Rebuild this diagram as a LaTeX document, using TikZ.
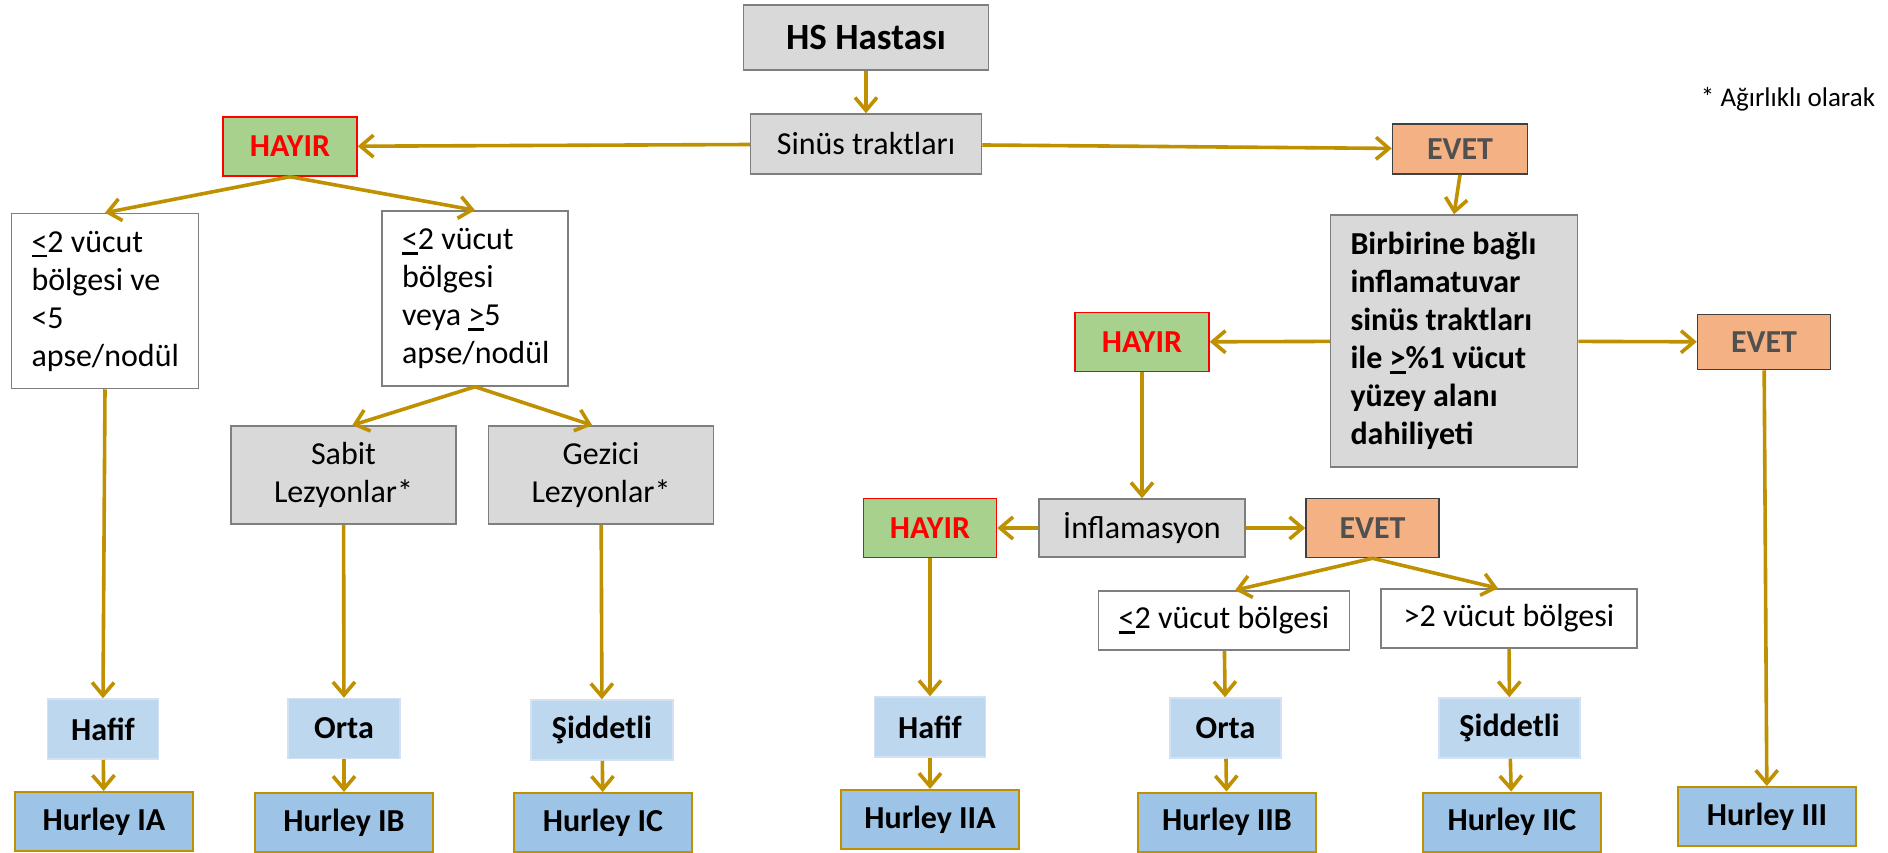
\documentclass[tikz,border=0pt]{standalone}
\usepackage{fontspec}
\setmainfont{Carlito}
\usetikzlibrary{arrows.meta}
\definecolor{gold}{HTML}{BF9000}
\definecolor{greyfill}{HTML}{D9D9D9}
\definecolor{boxline}{HTML}{7F7F7F}
\definecolor{hayirfill}{HTML}{A9D18E}
\definecolor{evetfill}{HTML}{F4B183}
\definecolor{evetline}{HTML}{404040}
\definecolor{evettext}{HTML}{505050}
\definecolor{gradefill}{HTML}{BDD7EE}
\definecolor{gradeline}{HTML}{D2E2F2}
\definecolor{hurleyfill}{HTML}{9DC3E6}
\newcommand{\ulsym}[1]{\setbox0\hbox{#1}\rlap{\rule[-5pt]{\wd0}{2.5pt}}\box0\relax}
\newcommand{\txt}{\fontsize{32}{38}\selectfont}
\newcommand{\tight}{\spaceskip=0pt\xspaceskip=0pt\relax}

\begin{document}
\begin{tikzpicture}[x=1pt,y=-1pt,
  box/.style={draw=boxline,line width=1.5pt,inner sep=0pt,font=\txt},
  grey/.style={box,fill=greyfill},
  plain/.style={box,fill=white},
  hayir/.style={box,draw=red,fill=hayirfill,text=red,font=\txt\bfseries,minimum width=134pt,minimum height=59pt},
  evet/.style={box,draw=evetline,fill=evetfill,text=evettext,font=\txt\bfseries,minimum width=133pt,minimum height=57pt},
  grade/.style={box,draw=gradeline,fill=gradefill,font=\txt\bfseries,minimum height=60pt},
  hurley/.style={box,draw=gold,line width=2pt,fill=hurleyfill,font=\txt\bfseries,minimum width=178pt,minimum height=59pt},
  link/.style={draw=gold,line width=3.6pt,-{Straight Barb[length=13pt,width=22pt]}}]
\useasboundingbox (0,0) rectangle (1888,852);

\node[grey,font=\fontsize{37}{44}\selectfont\bfseries,minimum width=245pt,minimum height=65pt] (hs) at (866,37.5) {HS Hastası};
\node[grey,minimum width=231pt,minimum height=60pt] (sinus) at (866,144) {Sinüs traktları};
\node[hayir] (hayirA) at (290,146.5) {HAYIR};
\node[evet,minimum width=135pt,minimum height=50pt] (evetA) at (1460,149) {EVET};
\node[font=\fontsize{27}{32}\selectfont] (note) at (1788,99) {* Ağırlıklı olarak};

\node[plain,text width=147pt,inner xsep=20pt,minimum height=175pt,align=left] (ruleA) at (105,301)
  {\tight\ulsym{<}2 vücut\\bölgesi ve\\<5\\apse/nodül};
\node[plain,text width=146pt,inner xsep=20pt,minimum height=175pt,align=left] (ruleB) at (475,298.5)
  {\tight\ulsym{<}2 vücut\\bölgesi\\veya \ulsym{>}5\\apse/nodül};
\node[grey,minimum width=225pt,minimum height=98pt,align=center] (sabit) at (343.5,475) {Sabit\\Lezyonlar*};
\node[grey,minimum width=225pt,minimum height=98pt,align=center] (gezici) at (601,475) {Gezici\\Lezyonlar*};
\node[grade,minimum width=111pt] (hafifA) at (103,729) {Hafif};
\node[grade,minimum width=112pt] (ortaA) at (344,728.5) {Orta};
\node[grade,minimum width=142pt] (siddetA) at (602,730) {Şiddetli};
\node[hurley] (hurleyIA) at (104,821.5) {Hurley IA};
\node[hurley] (hurleyIB) at (344,822.5) {Hurley IB};
\node[hurley] (hurleyIC) at (603,822.5) {Hurley IC};

\node[grey,font=\txt\bfseries,text width=207pt,inner xsep=20pt,minimum height=252pt,align=left] (bagli) at (1454,341)
  {\tight Birbirine bağlı\\inflamatuvar\\sinüs traktları\\ile \ulsym{>}\%1 vücut\\yüzey alanı\\dahiliyeti};
\node[hayir] (hayirB) at (1142,342) {HAYIR};
\node[evet,minimum height=55pt] (evetB) at (1764,342) {EVET};
\node[grey,minimum width=206pt,minimum height=58pt] (inflam) at (1142,528) {İnflamasyon};
\node[hayir,minimum width=133pt] (hayirC) at (930,528) {HAYIR};
\node[evet,minimum height=59pt] (evetC) at (1372.5,528) {EVET};
\node[plain,minimum width=251pt,minimum height=59pt] (lt2) at (1224,620.5) {\ulsym{<}2 vücut bölgesi};
\node[plain,minimum width=256pt,minimum height=59pt] (gt2) at (1509,618.5) {>2 vücut bölgesi};
\node[grade,minimum width=111pt] (hafifB) at (930,727) {Hafif};
\node[grade,minimum width=111pt] (ortaB) at (1225.5,728) {Orta};
\node[grade,minimum width=141pt] (siddetB) at (1509.5,728) {Şiddetli};
\node[hurley] (hurleyIIA) at (930,819.5) {Hurley IIA};
\node[hurley] (hurleyIIB) at (1227,822) {Hurley IIB};
\node[hurley] (hurleyIIC) at (1512,822) {Hurley IIC};
\node[hurley] (hurleyIII) at (1767,816.5) {Hurley III};

\draw[link] (hs) -- (sinus);
\draw[link] (sinus) -- (hayirA);
\draw[link] (sinus) -- (evetA);
\draw[link] (evetA.south) -- (bagli.north);
\draw[link] (hayirA.south) -- (ruleA.north);
\draw[link] (hayirA.south) -- (ruleB.north);
\draw[link] (ruleA.south) -- (hafifA.north);
\draw[link] (ruleB.south) -- (sabit.80);
\draw[link] (ruleB.south) -- (gezici.100);
\draw[link] (sabit) -- (ortaA);
\draw[link] (gezici) -- (siddetA);
\draw[link] (hafifA) -- (hurleyIA);
\draw[link] (ortaA) -- (hurleyIB);
\draw[link] (siddetA) -- (hurleyIC);
\draw[link] (bagli) -- (hayirB);
\draw[link] (bagli) -- (evetB);
\draw[link] (hayirB) -- (inflam);
\draw[link] (inflam) -- (hayirC);
\draw[link] (inflam) -- (evetC);
\draw[link] (evetC.south) -- (lt2.70);
\draw[link] (evetC.south) -- (gt2.110);
\draw[link] (hayirC) -- (hafifB);
\draw[link] (lt2) -- (ortaB);
\draw[link] (gt2) -- (siddetB);
\draw[link] (hafifB) -- (hurleyIIA);
\draw[link] (ortaB) -- (hurleyIIB);
\draw[link] (siddetB) -- (hurleyIIC);
\draw[link] (evetB) -- (hurleyIII);
\end{tikzpicture}
\end{document}
